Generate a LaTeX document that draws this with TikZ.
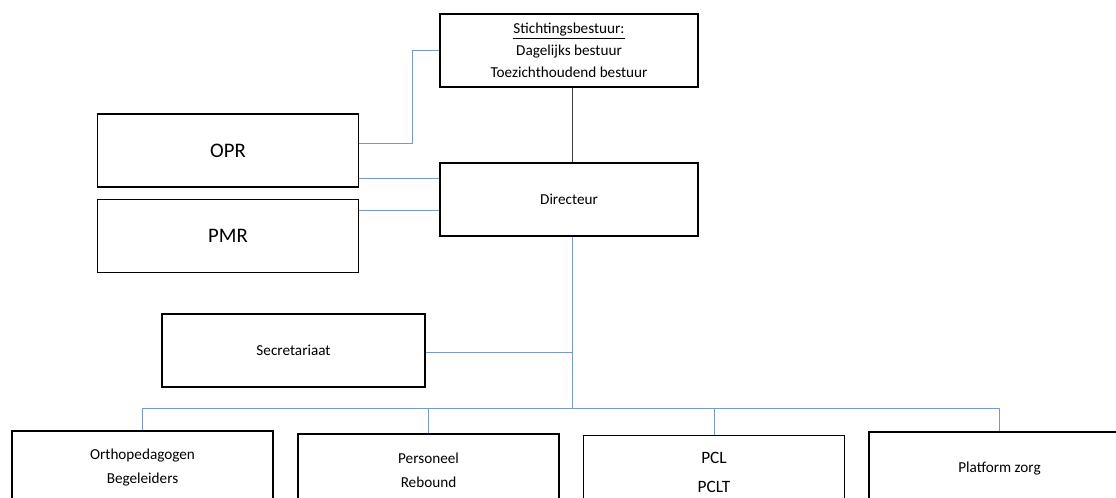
\documentclass[tikz,border=0pt]{standalone}
\usepackage{fontspec}
\setmainfont{Carlito}
\definecolor{conn}{RGB}{120,152,212}
\definecolor{darkconn}{RGB}{60,60,60}
\begin{document}
\begin{tikzpicture}[x=0.75pt,y=-0.75pt,
  box/.style={draw=black,line width=1.1pt,fill=white,minimum width=261*0.75pt,minimum height=73*0.75pt,inner sep=0pt,align=center,font=\fontsize{11.4}{16.5}\selectfont},
  bigtxt/.style={font=\fontsize{15.5}{18}\selectfont},
  midtxt/.style={font=\fontsize{13}{21.75}\selectfont},
  link/.style={draw=conn,line width=0.75pt},
  darklink/.style={draw=darkconn,line width=0.75pt}]
\useasboundingbox (0,0) rectangle (1116,497);
\clip (0,0) rectangle (1116,497);
% nodes
\node[box,minimum width=258*0.75pt] (st) at (569,50.5) {\underline{Stichtingsbestuur:}\\Dagelijks bestuur\\Toezichthoudend bestuur};
\node[box,minimum width=258*0.75pt] (dir) at (569,199.5) {Directeur};
\node[box,bigtxt] (opr) at (228,150.5) {OPR};
\node[box,bigtxt] (pmr) at (228,236) {PMR};
\node[box,minimum width=263*0.75pt] (sec) at (293.5,350.5) {Secretariaat};
\node[box,font=\fontsize{11.4}{18}\selectfont] (orth) at (142.5,467.5) {Orthopedagogen\\Begeleiders};
\node[box,font=\fontsize{11.4}{18}\selectfont] (pers) at (428.5,470.5) {Personeel\\Rebound};
\node[box,midtxt] (pcl) at (714,472) {PCL\\PCLT};
\node[box] (plat) at (999.5,468.5) {Platform zorg};
% coordinates
\coordinate (trunk) at (572,408);
\coordinate (secj) at (572,352);
\coordinate (oprbend) at (412,50);
% connectors
\draw[darklink] (st.south -| trunk) -- (dir.north -| trunk);
\draw[link] (opr.east |- 0,143) -| (oprbend) -- (st.west |- oprbend);
\draw[link] (opr.east |- 0,178) -- (dir.west |- 0,178);
\draw[link] (pmr.east |- 0,210) -- (dir.west |- 0,210);
\draw[link] (dir.south -| trunk) -- (trunk);
\draw[link] (sec.east |- secj) -- (secj);
\draw[link] (orth.north) |- (trunk);
\draw[link] (pers.north) |- (trunk);
\draw[link] (pcl.north) |- (trunk);
\draw[link] (plat.north) |- (trunk);
\end{tikzpicture}
\end{document}
